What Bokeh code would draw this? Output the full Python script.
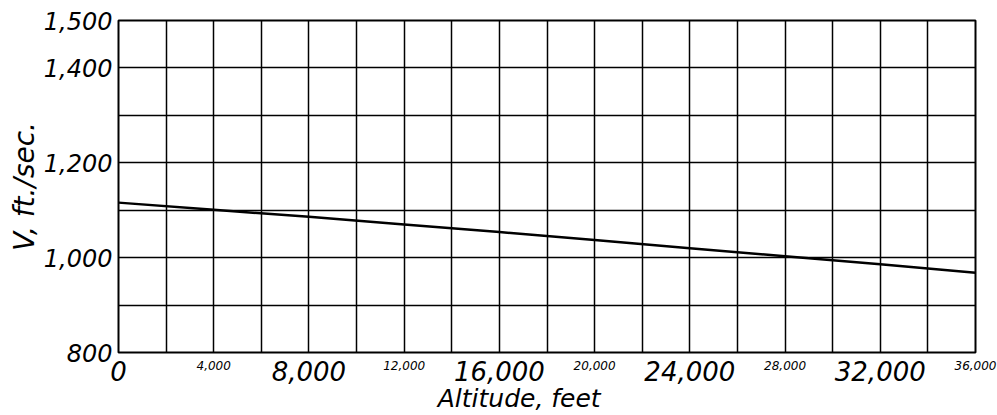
from bokeh.plotting import figure
from bokeh.models import FixedTicker, Range1d, LinearAxis
from bokeh.embed import file_html
from bokeh.resources import INLINE

# Data (speed of sound vs altitude)
altitude_ft = [0, 4000, 8000, 12000, 16000, 20000, 24000, 28000, 32000, 36000]
velocity_fps = [1116, 1101, 1086, 1070, 1054, 1037, 1020, 1003, 986, 968]

x_big_ticks = [0, 8000, 16000, 24000, 32000]
x_small_ticks = [4000, 12000, 20000, 28000, 36000]
y_ticks = [800, 1000, 1200, 1400, 1500]
x_grid = list(range(0, 36001, 2000))
y_grid = list(range(800, 1501, 100))

FONT = "DejaVu Sans"

p = figure(width=997, height=415, output_backend="svg", toolbar_location=None,
           x_range=Range1d(0, 36000), y_range=Range1d(800, 1500),
           x_axis_location=None,
           min_border_left=118, min_border_top=20, min_border_right=22, min_border_bottom=61,
           background_fill_color="white", border_fill_color="white")

p.outline_line_color = "black"
p.outline_line_width = 2

# grids
p.xgrid.ticker = FixedTicker(ticks=x_grid)
p.ygrid.ticker = FixedTicker(ticks=y_grid)
for g in (p.xgrid, p.ygrid):
    g.grid_line_color = "black"
    g.grid_line_width = 1.5
    g.grid_line_alpha = 1.0


def style_axis(ax, size, standoff):
    ax.major_label_text_font = FONT
    ax.major_label_text_font_style = "italic"
    ax.major_label_text_font_size = size
    ax.major_label_text_color = "black"
    ax.major_label_standoff = standoff
    ax.axis_line_color = None
    ax.major_tick_line_color = None
    ax.minor_tick_line_color = None
    ax.major_tick_out = 0
    ax.major_tick_in = 0
    ax.minor_tick_out = 0
    ax.minor_tick_in = 0


# small x labels (closest to the frame)
xs = LinearAxis(ticker=FixedTicker(ticks=x_small_ticks),
                major_label_overrides={v: f"{v:,}" for v in x_small_ticks})
style_axis(xs, "12px", 8)
p.add_layout(xs, "below")

# large x labels, pulled up to overlap the small-label band
xb = LinearAxis(ticker=FixedTicker(ticks=x_big_ticks),
                major_label_overrides={v: f"{v:,}" for v in x_big_ticks})
style_axis(xb, "26px", -12)
xb.axis_label = "Altitude, feet" + "\u00a0" * 7
xb.axis_label_text_font = FONT
xb.axis_label_text_font_style = "italic"
xb.axis_label_text_font_size = "25px"
xb.axis_label_text_color = "black"
xb.axis_label_standoff = 0
p.add_layout(xb, "below")

# y axis
ya = p.yaxis[0]
ya.ticker = FixedTicker(ticks=y_ticks)
ya.major_label_overrides = {v: f"{v:,}" for v in y_ticks}
style_axis(ya, "24px", 6)
ya.axis_label = "V, ft./sec."
ya.axis_label_text_font = FONT
ya.axis_label_text_font_style = "italic"
ya.axis_label_text_font_size = "28px"
ya.axis_label_text_color = "black"
ya.axis_label_standoff = 0

p.line(altitude_ft, velocity_fps, line_color="black", line_width=2.5)

open("out.html", "w").write(file_html(p, INLINE))
